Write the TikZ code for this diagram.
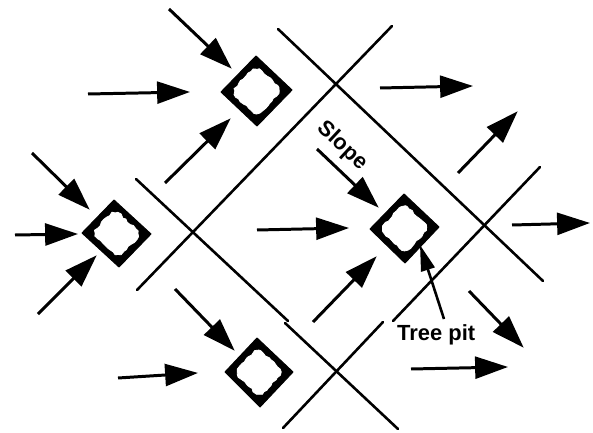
\documentclass[tikz,border=0pt]{standalone}
\usepackage{fontspec}
\setmainfont{Liberation Sans}
\usetikzlibrary{arrows.meta,calc,decorations.pathmorphing}
\tikzset{
  grid line/.style={line width=2.6pt,black,line cap=round},
  flow/.style={line width=3pt,black,-{Triangle[length=33pt,width=22pt]},shorten >=-1pt},
  pointer/.style={line width=2.6pt,black,-{Triangle[length=26pt,width=14pt]}},
  pit outer/.style={fill=black,draw=black,line width=1pt,line join=round},
  pit inner/.style={fill=white,draw=white,line width=0.8pt,line join=round,decorate,decoration={random steps,segment length=3.5pt,amplitude=1pt}},
  label text/.style={font=\fontsize{22}{25}\selectfont\bfseries,text=black,inner sep=0pt}
}
\newcommand{\treepit}[5]{%
  \coordinate (#1t) at #2; \coordinate (#1r) at #3; \coordinate (#1b) at #4; \coordinate (#1l) at #5;
  \coordinate (#1c) at ($(#1t)!0.5!(#1b)$);
  \coordinate (#1T) at ($(#1c)!0.72!(#1t)$);
  \coordinate (#1R) at ($(#1c)!0.72!(#1r)$);
  \coordinate (#1B) at ($(#1c)!0.72!(#1b)$);
  \coordinate (#1L) at ($(#1c)!0.72!(#1l)$);
  \draw[pit outer] (#1t) -- (#1r) -- (#1b) -- (#1l) -- cycle;
  \path[pit inner] ($(#1T)!0.12!(#1R)$) -- ($(#1T)!0.88!(#1R)$) -- ($(#1R)!0.12!(#1B)$) -- ($(#1R)!0.88!(#1B)$) -- ($(#1B)!0.12!(#1L)$) -- ($(#1B)!0.88!(#1L)$) -- ($(#1L)!0.12!(#1T)$) -- ($(#1L)!0.88!(#1T)$) -- cycle;
}
\begin{document}
\begin{tikzpicture}[x=1bp,y=-1bp]
\pgfmathsetseed{7}
\useasboundingbox (0,0) rectangle (593,433);
% grid of ridges
\draw[grid line] (278,29) -- (543,281);
\draw[grid line] (392,26) -- (137,290);
\draw[grid line] (136,179) -- (288,321);
\draw[grid line] (285,323) -- (398,429);
\draw[grid line] (540,167) -- (393,321);
\draw[grid line] (383,322) -- (283,428);
% tree pits
\treepit{A}{(256,56)}{(292,90)}{(257,126)}{(221,92)}
\treepit{B}{(114,200)}{(151,234)}{(119,267)}{(82,233)}
\treepit{C}{(404,194)}{(439,227)}{(405,263)}{(370,229)}
\treepit{D}{(257,338)}{(293,372)}{(260,407)}{(225,372)}
% flow arrows
\draw[flow] (169,9) -- (231,68);
\draw[flow] (88,94) -- (189,92);
\draw[flow] (165,183) -- (230,119);
\draw[flow] (32,153) -- (89,209);
\draw[flow] (15,235) -- (77,234);
\draw[flow] (38,314) -- (96,256);
\draw[flow] (175,289) -- (234,350);
\draw[flow] (118,378) -- (197,373);
\draw[flow] (257,230) -- (348,228);
\draw[flow] (317,149) -- (378,207);
\draw[flow] (313,322) -- (376,257);
\draw[flow] (380,88) -- (472,86);
\draw[flow] (458,173) -- (517,112);
\draw[flow] (512,225) -- (589,223);
\draw[flow] (469,291) -- (523,347);
\draw[flow] (411,369) -- (507,367);
% labels
\node[label text,rotate=-43] (slope) at (342,146) {Slope};
\node[label text,anchor=west] (treelabel) at (397,335) {Tree pit};
\coordinate (pointerstart) at (444,319);
\coordinate (pointertip) at (420,245);
\draw[pointer] (pointerstart) -- (pointertip);
\end{tikzpicture}
\end{document}
